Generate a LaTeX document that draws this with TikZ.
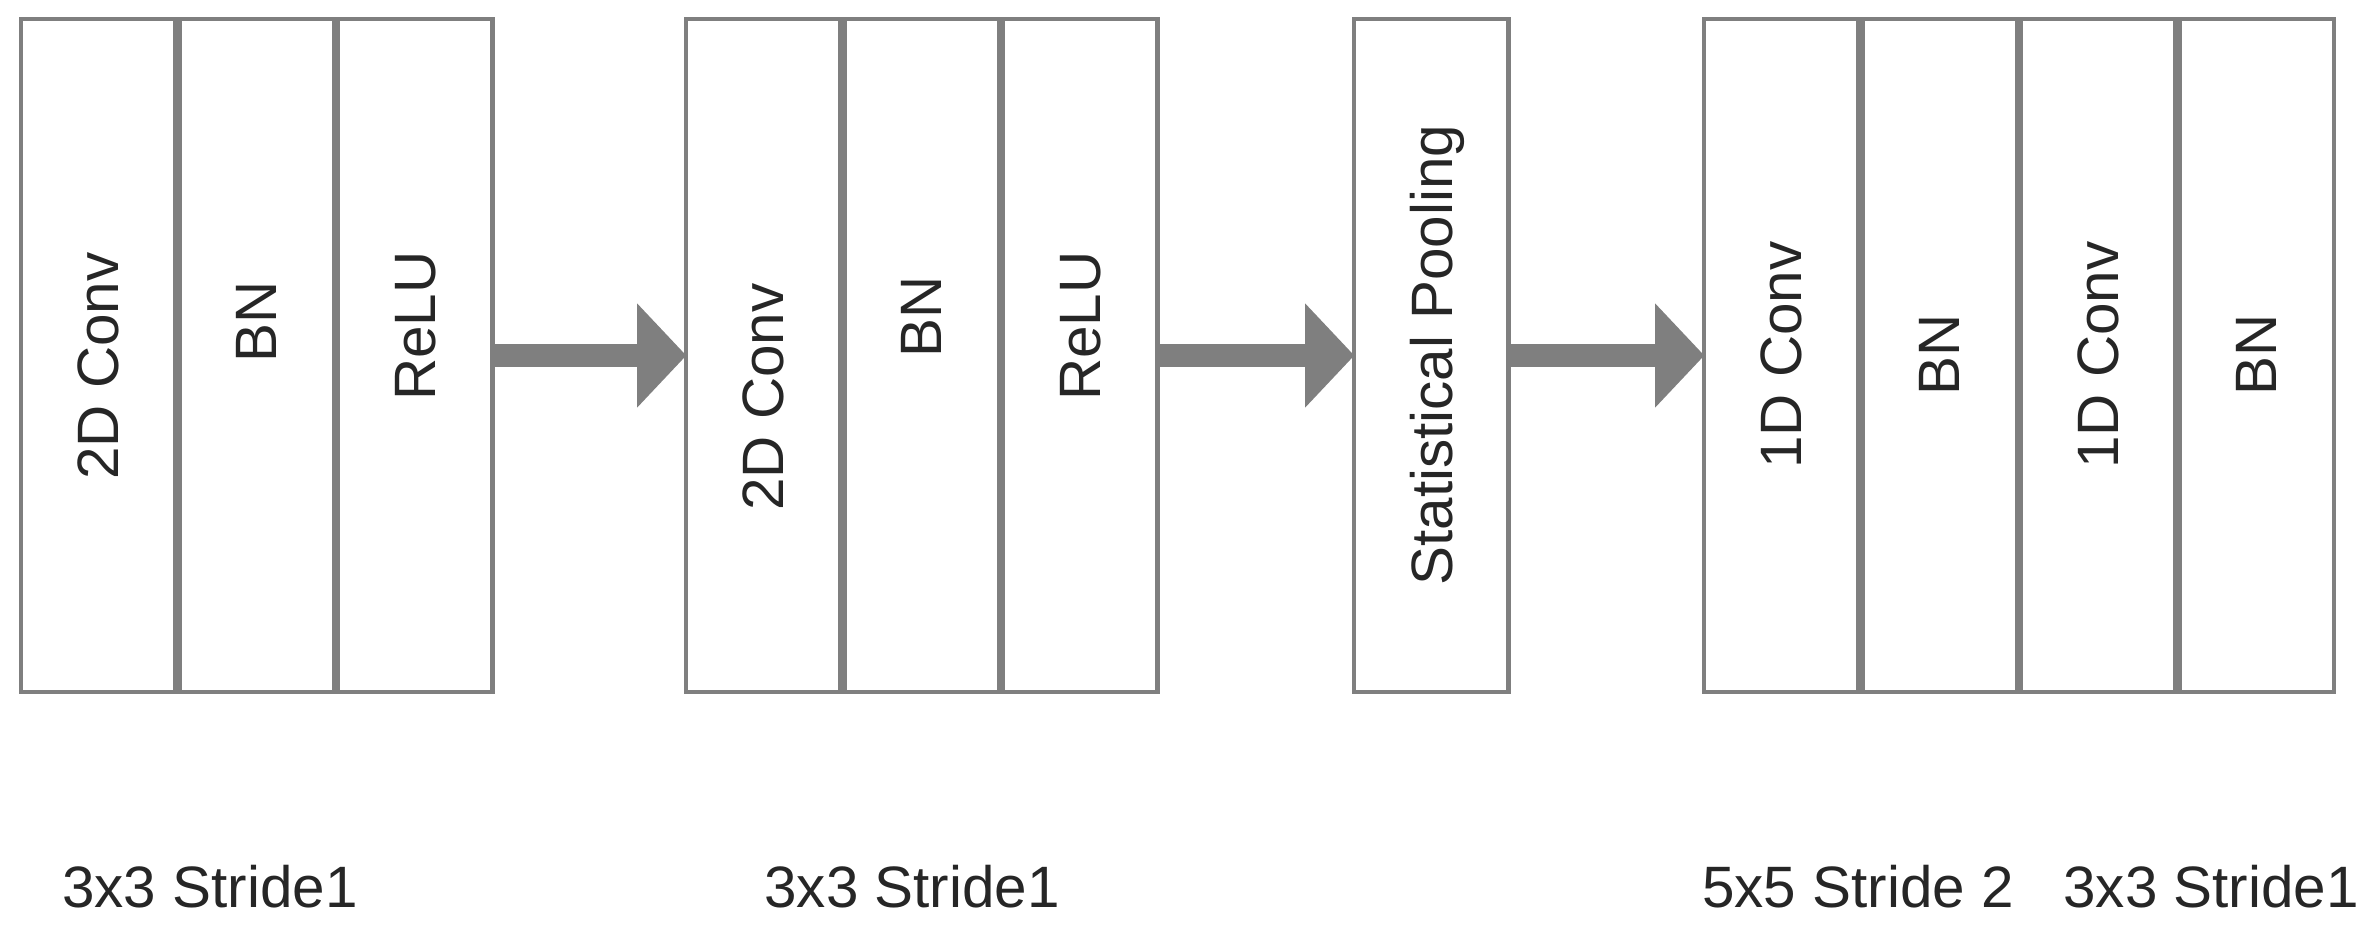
\documentclass[tikz,border=0pt]{standalone}
\usepackage{fontspec}
\setmainfont{Liberation Sans}
\usetikzlibrary{arrows.meta}
\definecolor{boxgray}{HTML}{7F7F7F}
\begin{document}
\begin{tikzpicture}[
  x=0.01cm, y=-0.01cm,
  font=\fontsize{16.6}{20}\selectfont,
  cell/.style={draw=boxgray, line width=0.045cm, minimum width=1.54cm,
    minimum height=6.725cm, inner sep=0pt, outer sep=0pt},
  celltext/.style={rotate=90, text=black!85, inner sep=0pt, text depth=0pt},
  flow/.style={draw=boxgray, line width=0.23cm,
    -{Triangle[length=0.49cm, width=1.04cm, line width=0pt]}},
  note/.style={anchor=base, text=black!85},
]
\useasboundingbox (0,0) rectangle (2379,935);
\foreach \n/\x/\t/\ty in {a1/98.25/2D Conv/366, a2/256.75/BN/322, a3/415.25/ReLU/326,
    b1/763.25/2D Conv/397, b2/921.75/BN/317, b3/1080.25/ReLU/326,
    p/1431.25/Statistical Pooling/355,
    c1/1781.25/1D Conv/355, c2/1939.75/BN/355, c3/2098.25/1D Conv/355, c4/2256.75/BN/355} {
  \node[cell] (\n) at (\x,355.5) {};
  \node[celltext] (\n-txt) at (\x,\ty) {\t};
}
\draw[flow] (a3.east) -- (b1.west);
\draw[flow] (b3.east) -- (p.west);
\draw[flow] (p.east) -- (c1.west);
\node[note] (k-a) at (210,907) {3x3 Stride1};
\node[note] (k-b) at (912,907) {3x3 Stride1};
\node[note] (k-c1) at (1858,907) {5x5 Stride 2};
\node[note] (k-c3) at (2211,907) {3x3 Stride1};
\end{tikzpicture}
\end{document}
